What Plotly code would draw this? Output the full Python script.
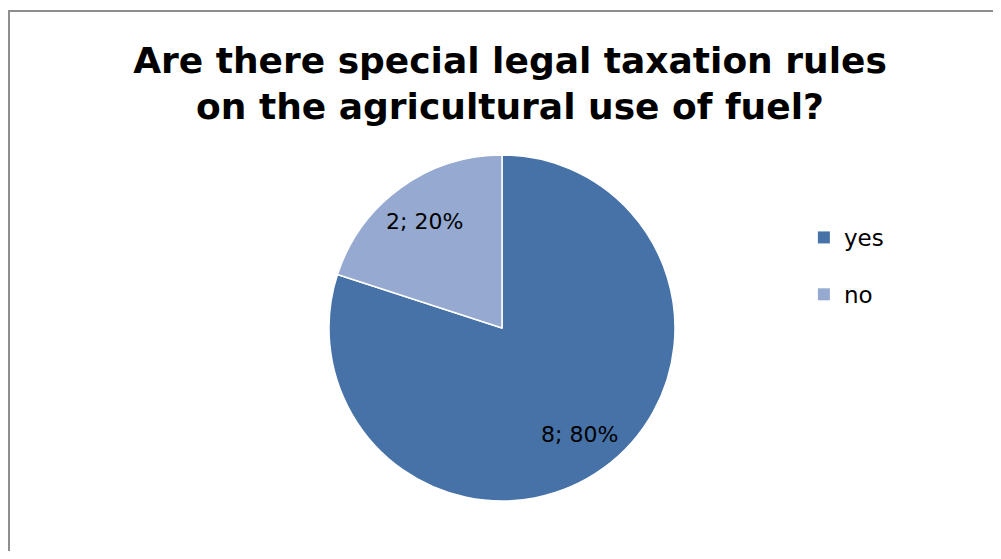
import math
import plotly.graph_objects as go

labels = ["yes", "no"]
values = [8, 2]
colors = ["#4672A8", "#95A9D1"]
title_text = "Are there special legal taxation rules<br>on the agricultural use of fuel?"

FONT = "DejaVu Sans, sans-serif"
W, H = 985, 543  # page body has an 8px margin

dom_x = [321 / W, 667 / W]
dom_y = [(H - 493) / H, (H - 147) / H]

fig = go.Figure()
fig.add_trace(go.Pie(
    labels=labels,
    values=values,
    marker=dict(colors=colors, line=dict(color="white", width=1.5)),
    sort=False,
    direction="clockwise",
    rotation=0,
    textinfo="none",
    domain=dict(x=dom_x, y=dom_y),
    hoverinfo="label+value+percent",
    showlegend=False,
))

# slice labels "value; percent" placed at each slice's mid-angle
total = sum(values)
cx_px = (dom_x[0] + dom_x[1]) / 2 * W
cy_px = (dom_y[0] + dom_y[1]) / 2 * H
r_px = min((dom_x[1] - dom_x[0]) * W, (dom_y[1] - dom_y[0]) * H) / 2
label_r = 0.76 * r_px
annotations = []
cum = 0
for v in values:
    mid = (cum + v / 2) / total * 2 * math.pi  # clockwise from 12 o'clock
    cum += v
    ax = cx_px + label_r * math.sin(mid)
    ay = cy_px + label_r * math.cos(mid)
    annotations.append(dict(
        text=f"{v}; {round(100 * v / total)}%", x=ax / W, y=ay / H,
        xref="paper", yref="paper", showarrow=False,
        xanchor="center", yanchor="middle",
        font=dict(family=FONT, size=22, color="black"),
    ))

# legend entries (one per slice) so that entries can be spaced like the original
for lab, col in zip(labels, colors):
    fig.add_trace(go.Scatter(
        x=[None], y=[None], mode="markers", name=lab, legendgroup=lab,
        marker=dict(symbol="square", size=12, color=col),
        hoverinfo="skip",
    ))

fig.update_layout(
    width=W, height=H,
    margin=dict(l=0, r=0, t=0, b=0),
    paper_bgcolor="white",
    plot_bgcolor="white",
    xaxis=dict(visible=False),
    yaxis=dict(visible=False),
    title=dict(text=title_text, x=502 / W, xanchor="center", y=0.881, yanchor="middle",
               font=dict(family=FONT, size=36, color="black", weight="bold")),
    legend=dict(x=0.808, y=0.617, xanchor="left", yanchor="top",
                font=dict(family=FONT, size=23, color="black"),
                tracegroupgap=24, itemwidth=30, bgcolor="rgba(0,0,0,0)"),
    annotations=annotations,
    shapes=[dict(type="rect", xref="paper", yref="paper", x0=1 / W, x1=1.05, y0=-0.05, y1=1 - 3 / H,
                 line=dict(color="#8E8E8E", width=2), fillcolor="rgba(0,0,0,0)", layer="above")],
)

fig.write_html("out.html")
